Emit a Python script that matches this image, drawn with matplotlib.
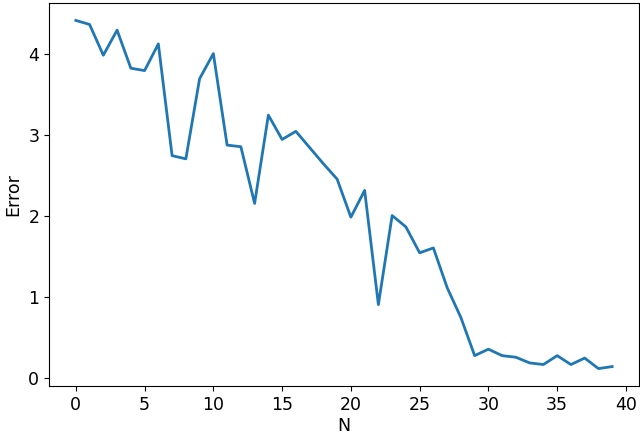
import matplotlib
matplotlib.use("Agg")
import matplotlib.pyplot as plt
import numpy as np

plt.rcParams.update({
    "font.size": 12.5,
    "lines.linewidth": 2.0,
})

# Error values, one per N
n = np.arange(40)
error = [4.42, 4.37, 3.99, 4.30, 3.83, 3.80, 4.13, 2.75, 2.71, 3.70,
         4.01, 2.88, 2.86, 2.16, 3.25, 2.95, 3.05, 2.85, 2.65, 2.46,
         1.99, 2.32, 0.91, 2.01, 1.87, 1.55, 1.61, 1.12, 0.75, 0.28,
         0.36, 0.28, 0.26, 0.19, 0.17, 0.28, 0.17, 0.25, 0.12, 0.145]

fig = plt.figure(figsize=(6.4, 4.36), dpi=100)
ax = fig.add_axes([49 / 640, 1 - 386 / 436, 590 / 640, 383 / 436])

ax.plot(n, error, color='#1f77b4')

ax.set_xlabel('N', labelpad=2)
ax.set_ylabel('Error', labelpad=4)

plt.savefig('out.png', dpi=100)
